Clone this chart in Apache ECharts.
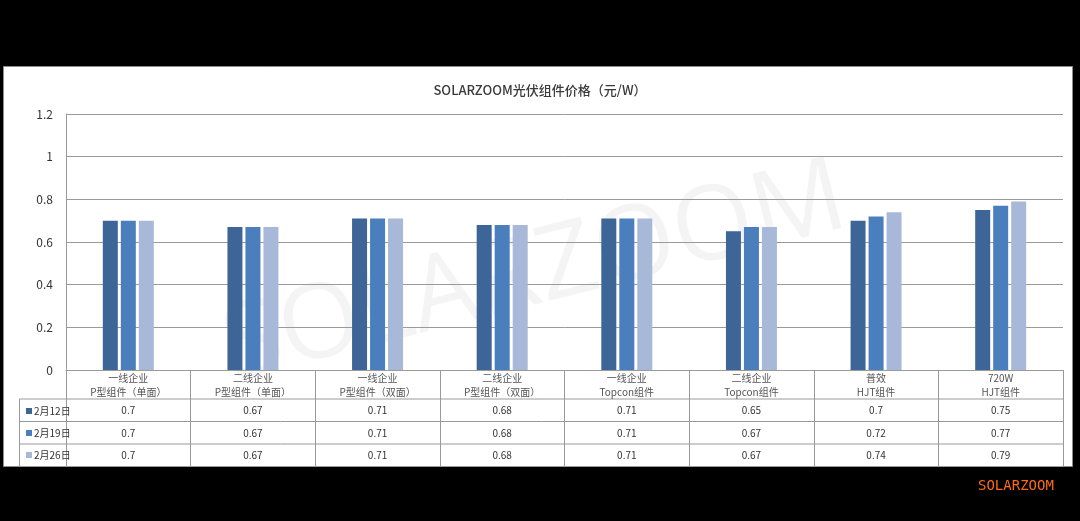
<!DOCTYPE html>
<html><head><meta charset="utf-8">
<script src="https://cdn.jsdelivr.net/npm/echarts@6/dist/echarts.min.js"></script>
<style>html,body{margin:0;padding:0;background:#000;}#c{width:1080px;height:521px;}</style>
</head><body><div id="c"></div>
<script>
const categories = [
  ['一线企业','P型组件（单面）'],
  ['二线企业','P型组件（单面）'],
  ['一线企业','P型组件（双面）'],
  ['二线企业','P型组件（双面）'],
  ['一线企业','Topcon组件'],
  ['二线企业','Topcon组件'],
  ['普效','HJT组件'],
  ['720W','HJT组件']
];
const seriesNames = ['2月12日','2月19日','2月26日'];
const feb12 = [0.7,0.67,0.71,0.68,0.71,0.65,0.7,0.75];
const feb19 = [0.7,0.67,0.71,0.68,0.71,0.67,0.72,0.77];
const feb26 = [0.7,0.67,0.71,0.68,0.71,0.67,0.74,0.79];
const yTicks = {min:0, max:1.2, interval:0.2};

const colors = ['#3D6597','#4B7EBC','#A8B8D8'];
const values = [feb12, feb19, feb26];
const catKeys = categories.map((c,i)=>String(i));
const font = '"Noto Sans CJK SC","Noto Sans",sans-serif';

const chart = echarts.init(document.getElementById('c'), null, {renderer:'canvas'});
const L = 66, R = 1063, T = 114, B = 370;
const tableLines = [399, 421.5, 444, 466.5];

const graphics = [
  {type:'rect', shape:{x:3.5,y:66.5,width:1069,height:400}, style:{fill:'#fff', stroke:'#8c8c8c', lineWidth:1}, z:-10, silent:true},
  {type:'text', x:535, y:274, rotation:Math.PI*14/180, style:{text:'SOLARZOOM', font:'400 104px "Open Sans",sans-serif', fill:'rgba(0,0,0,0.045)', align:'center', verticalAlign:'middle'}, z:-5, silent:true},
  {type:'text', left:978, top:479, style:{text:'SOLARZOOM', font:'14px "DejaVu Sans Mono",monospace', fill:'#FF6A10'}, silent:true},
  {type:'line', shape:{x1:19.5,y1:399,x2:19.5,y2:466.5}, style:{stroke:'#9a9a9a', lineWidth:1}, silent:true}
];
tableLines.forEach(y=>{
  graphics.push({type:'line', shape:{x1:19.5,y1:y,x2:R,y2:y}, style:{stroke:'#9a9a9a', lineWidth:1}, silent:true});
});

chart.setOption({
  backgroundColor:'#000',
  animation:false,
  title:{text:'SOLARZOOM光伏组件价格（元/W）', left:'center', top:79, textStyle:{fontFamily:font, fontSize:13, fontWeight:500, color:'#3a3a3a'}},
  grid:{left:L, right:1080-R, top:T, bottom:521-B, containLabel:false},
  legend:{orient:'vertical', left:21, top:401, itemWidth:6, itemHeight:6, itemGap:12, icon:'rect',
    textStyle:{fontFamily:font, fontSize:10, color:'#333', padding:[0,0,0,-3]}, data:seriesNames},
  xAxis:{type:'category', data:catKeys,
    axisLine:{lineStyle:{color:'#9a9a9a'}},
    axisTick:{show:true, length:96.5, lineStyle:{color:'#9a9a9a'}},
    axisLabel:{margin:1, interval:0, fontFamily:font,
      formatter:(v)=>{const i=+v; const c=categories[i];
        return '{c|'+c[0]+'}\n{c|'+c[1]+'}\n{v|'+feb12[i]+'}\n{v|'+feb19[i]+'}\n{v|'+feb26[i]+'}';},
      rich:{c:{fontFamily:font,fontSize:10,color:'#555',lineHeight:14}, v:{fontFamily:font,fontSize:10,color:'#333',lineHeight:22.5}}}},
  yAxis:{type:'value', min:yTicks.min, max:yTicks.max, interval:yTicks.interval,
    axisLine:{show:true, lineStyle:{color:'#9a9a9a'}}, axisTick:{show:false},
    axisLabel:{margin:13, fontFamily:font, fontSize:12, color:'#333'},
    splitLine:{lineStyle:{color:'#9a9a9a', width:1}}},
  series: seriesNames.map((n,k)=>({name:n, type:'bar', data:values[k], barWidth:15, barGap:'20%',
    itemStyle:{color:colors[k]}})),
  graphic: graphics
});
</script></body></html>
